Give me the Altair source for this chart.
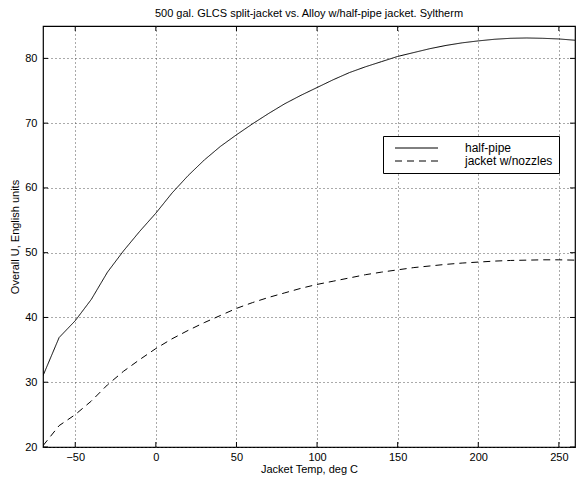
import altair as alt
import pandas as pd

# ---- data ----
temps = [-70, -60, -50, -40, -30, -20, -10, 0, 10, 20, 30, 40, 50, 60, 70, 80, 90,
         100, 110, 120, 130, 140, 150, 160, 170, 180, 190, 200, 210, 220, 230, 240, 250, 260]
half_pipe = [31.0, 36.9, 39.5, 42.8, 47.0, 50.3, 53.3, 56.1, 59.2, 61.9, 64.3, 66.4, 68.2,
             69.9, 71.5, 73.0, 74.3, 75.5, 76.7, 77.8, 78.7, 79.5, 80.3, 80.9, 81.5, 82.0,
             82.4, 82.7, 82.95, 83.1, 83.15, 83.1, 83.0, 82.8]
nozzles = [20.2, 23.3, 25.0, 27.1, 29.6, 31.7, 33.5, 35.2, 36.7, 38.0, 39.2, 40.3, 41.4,
           42.3, 43.1, 43.8, 44.5, 45.1, 45.6, 46.1, 46.6, 47.0, 47.35, 47.7, 47.95, 48.2,
           48.4, 48.55, 48.7, 48.8, 48.85, 48.9, 48.9, 48.85]
series_names = ["half-pipe", "jacket w/nozzles"]
x_ticks = [-50, 0, 50, 100, 150, 200, 250]
y_ticks = [20, 30, 40, 50, 60, 70, 80]

W, H = 532, 421
FONT = "Liberation Sans"

df = pd.DataFrame({
    "x": temps * 2,
    "y": half_pipe + nozzles,
    "series": [series_names[0]] * len(temps) + [series_names[1]] * len(temps),
})
xt = pd.DataFrame({"x": x_ticks})
yt = pd.DataFrame({"y": y_ticks})

axis_common = dict(grid=True, gridDash=[1, 3], gridColor="#444", gridOpacity=0.9,
                   gridWidth=1, domain=False, ticks=False,
                   labelFont=FONT, labelFontSize=11, labelColor="black",
                   titleFont=FONT, titleFontSize=11, titleFontWeight="normal",
                   titleColor="black")

X = alt.X("x:Q", scale=alt.Scale(domain=[-70, 260], nice=False, zero=False),
          axis=alt.Axis(values=x_ticks, title="Jacket Temp, deg C", labelPadding=4,
                        titlePadding=1, **axis_common))
Y = alt.Y("y:Q", scale=alt.Scale(domain=[20, 85], nice=False, zero=False),
          axis=alt.Axis(values=y_ticks, title="Overall U, English units", labelPadding=6,
                        titlePadding=4, **axis_common))

lines = alt.Chart(df).mark_line(color="black", strokeWidth=1, clip=True).encode(
    x=X, y=Y,
    strokeDash=alt.StrokeDash(
        "series:N",
        scale=alt.Scale(domain=series_names, range=[[1, 0], [7, 5]]),
        legend=alt.Legend(
            title=None, orient="none", legendX=340, legendY=110,
            fillColor="white", strokeColor="black", padding=6,
            symbolType="M0,0H10", symbolSize=74, symbolStrokeColor="black",
            symbolStrokeWidth=1, symbolFillColor="transparent",
            labelFontSize=12, labelFont=FONT, labelColor="black",
            labelOffset=64, rowPadding=1, labelLimit=300,
        ),
    ),
)

tick_bottom = alt.Chart(xt).mark_rule(color="black").encode(
    x=X, y=alt.value(H), y2=alt.value(H - 5))
tick_top = alt.Chart(xt).mark_rule(color="black").encode(
    x=X, y=alt.value(0), y2=alt.value(5))
tick_left = alt.Chart(yt).mark_rule(color="black").encode(
    y=Y, x=alt.value(0), x2=alt.value(5))
tick_right = alt.Chart(yt).mark_rule(color="black").encode(
    y=Y, x=alt.value(W), x2=alt.value(W - 5))

chart = alt.layer(lines, tick_bottom, tick_top, tick_left, tick_right).properties(
    width=W, height=H,
    background="white",
    title=alt.TitleParams("500 gal. GLCS split-jacket vs. Alloy w/half-pipe jacket. Syltherm",
                          fontSize=11, fontWeight="normal", font=FONT, color="black",
                          offset=7),
    autosize=alt.AutoSizeParams(type="none"),
    padding={"left": 35, "top": 18, "right": 1, "bottom": 28},
).configure_view(
    stroke="black", strokeWidth=1.2
)

chart.save("out.html", embed_options={"renderer": "svg", "actions": False})
